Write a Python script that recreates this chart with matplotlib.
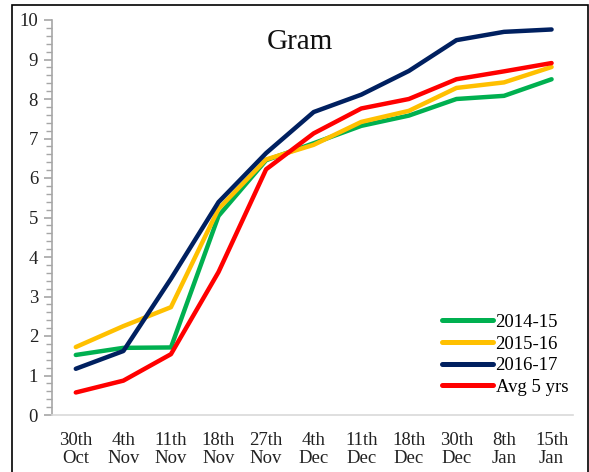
import matplotlib
matplotlib.use("Agg")
import matplotlib.pyplot as plt
from matplotlib.patches import Rectangle
from matplotlib.ticker import MultipleLocator

categories = ["30th\nOct", "4th\nNov", "11th\nNov", "18th\nNov", "27th\nNov",
              "4th\nDec", "11th\nDec", "18th\nDec", "30th\nDec", "8th\nJan", "15th\nJan"]
s2014_15 = [1.52, 1.70, 1.71, 5.04, 6.45, 6.88, 7.32, 7.58, 8.00, 8.08, 8.50]
s2015_16 = [1.72, 2.25, 2.73, 5.22, 6.47, 6.84, 7.42, 7.70, 8.28, 8.42, 8.81]
s2016_17 = [1.17, 1.62, 3.45, 5.39, 6.63, 7.67, 8.11, 8.71, 9.49, 9.70, 9.76]
avg_5yrs = [0.57, 0.87, 1.54, 3.62, 6.22, 7.13, 7.76, 8.00, 8.50, 8.70, 8.91]
series_names = ["2014-15", "2015-16", "2016-17", "Avg 5 yrs"]
colors = ["#00b050", "#ffc000", "#002060", "#ff0000"]

plt.rcParams["font.family"] = ["Liberation Serif", "DejaVu Serif"]

fig = plt.figure(figsize=(5.89, 4.72), dpi=100)
ax = fig.add_axes([52 / 589, 1 - 415 / 472, (573 - 52) / 589, (415 - 20) / 472])

x = list(range(len(categories)))
for vals, name, c in zip([s2014_15, s2015_16, s2016_17, avg_5yrs], series_names, colors):
    ax.plot(x, vals, color=c, lw=3.2, label=name, solid_capstyle="round", solid_joinstyle="round")

ax.set_xlim(-0.5, 10.45)
ax.set_ylim(0, 10)
ax.set_xticks(x)
ax.set_xticklabels(categories, fontsize=13.5, color="#222222", linespacing=1.12)
ax.tick_params(axis="x", length=0, pad=12)
ax.yaxis.set_major_locator(MultipleLocator(1))
ax.yaxis.set_minor_locator(MultipleLocator(0.2))
ax.tick_params(axis="y", which="major", length=6, width=1.2, color="#a6a6a6",
               labelsize=13.5, labelcolor="#222222", pad=4)
ax.tick_params(axis="y", which="minor", length=4, width=1.0, color="#a6a6a6")

for side in ["top", "right"]:
    ax.spines[side].set_visible(False)
ax.spines["left"].set_color("#a6a6a6")
ax.spines["left"].set_linewidth(1.2)
ax.spines["bottom"].set_color("#d9d9d9")
ax.spines["bottom"].set_linewidth(1.2)

ax.text(0.475, 0.945, "Gram", transform=ax.transAxes, ha="center", va="center",
        fontsize=21, color="#111111")

leg = ax.legend(loc="lower right", bbox_to_anchor=(1.012, 0.02), frameon=False,
                fontsize=13.5, handlelength=2.7, handletextpad=0.16, labelspacing=0.24,
                borderaxespad=0.2)
for h in leg.get_lines():
    h.set_linewidth(3.6)

fig.patches.append(Rectangle((12 / 589, -0.02), (588 - 12) / 589, 1 - 5 / 472 + 0.02,
                             transform=fig.transFigure, fill=False, edgecolor="black",
                             linewidth=1.2))

fig.savefig("out.png", dpi=100)
